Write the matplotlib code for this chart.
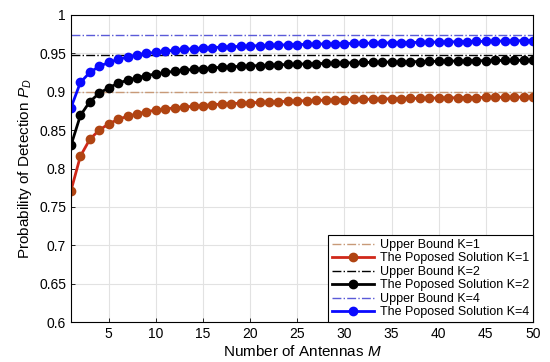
import numpy as np
import matplotlib
matplotlib.use('Agg')
import matplotlib.pyplot as plt
from matplotlib.ticker import FuncFormatter

plt.rcParams['font.family'] = ['Liberation Sans', 'DejaVu Sans']
plt.rcParams['mathtext.fontset'] = 'custom'
plt.rcParams['mathtext.rm'] = 'Liberation Sans'
plt.rcParams['mathtext.it'] = 'Liberation Sans:italic'

# data
M = list(range(1, 51))

pd_k1 = [0.771, 0.816, 0.838, 0.850, 0.858, 0.864, 0.868, 0.871, 0.874, 0.876,
         0.8775, 0.879, 0.880, 0.881, 0.882, 0.883, 0.8838, 0.8845, 0.885, 0.8857,
         0.886, 0.8866, 0.887, 0.8875, 0.888, 0.8883, 0.8887, 0.889, 0.8893, 0.8896,
         0.8899, 0.890, 0.8903, 0.8906, 0.8908, 0.891, 0.8912, 0.8914, 0.8916, 0.8918,
         0.892, 0.8921, 0.8923, 0.8924, 0.8926, 0.8927, 0.8928, 0.8929, 0.893, 0.8931]

pd_k2 = [0.830, 0.869, 0.887, 0.898, 0.905, 0.911, 0.915, 0.918, 0.921, 0.923,
         0.925, 0.9265, 0.928, 0.929, 0.930, 0.931, 0.9318, 0.9325, 0.933, 0.9336,
         0.934, 0.9345, 0.935, 0.9354, 0.9358, 0.9362, 0.9365, 0.9368, 0.9371, 0.9374,
         0.9377, 0.938, 0.9382, 0.9384, 0.9386, 0.9388, 0.939, 0.9392, 0.9394, 0.9396,
         0.9398, 0.940, 0.9401, 0.9403, 0.9404, 0.9406, 0.9407, 0.9408, 0.9409, 0.941]

pd_k4 = [0.879, 0.912, 0.925, 0.933, 0.938, 0.942, 0.945, 0.948, 0.950, 0.951,
         0.9525, 0.954, 0.955, 0.956, 0.9567, 0.9574, 0.958, 0.9586, 0.959, 0.9595,
         0.960, 0.9603, 0.9607, 0.961, 0.9613, 0.9616, 0.9619, 0.9622, 0.9624, 0.9626,
         0.9628, 0.963, 0.9632, 0.9634, 0.9636, 0.9638, 0.964, 0.9642, 0.9644, 0.9646,
         0.9648, 0.965, 0.9652, 0.9654, 0.9656, 0.9658, 0.966, 0.9662, 0.9664, 0.9666]

ub_k1 = 0.899
ub_k2 = 0.948
ub_k4 = 0.974

fig = plt.figure(figsize=(5.5, 3.62), dpi=100)
ax = fig.add_axes([0.129, 0.110, 0.840, 0.849])

ax.plot(M, [ub_k1] * len(M), '-.', color='#c89a78', lw=1, label='Upper Bound K=1')
ax.plot(M, pd_k1, '-o', color='#d0281a', mfc='#b04412', mec='#b04412', lw=2,
        ms=6, label='The Poposed Solution K=1')
ax.plot(M, [ub_k2] * len(M), '-.', color='black', lw=1, label='Upper Bound K=2')
ax.plot(M, pd_k2, '-o', color='black', lw=2, ms=6, label='The Poposed Solution K=2')
ax.plot(M, [ub_k4] * len(M), '-.', color='#5a5ad8', lw=1, label='Upper Bound K=4')
ax.plot(M, pd_k4, '-o', color='#0a0aff', lw=2, ms=6, label='The Poposed Solution K=4')

ax.set_xlim(1, 50)
ax.set_ylim(0.6, 1)
ax.set_xticks(range(5, 51, 5))
ax.set_yticks(np.arange(0.6, 1.001, 0.05))
ax.yaxis.set_major_formatter(FuncFormatter(lambda v, p: '%g' % round(v, 2)))
ax.tick_params(direction='in', labelsize=10, length=3, width=0.6)
ax.grid(True, color='#e2e2e2', lw=0.8)
for s in ax.spines.values():
    s.set_linewidth(0.8)

ax.set_xlabel('Number of Antennas $M$', fontsize=11, labelpad=2)
ax.set_ylabel('Probability of Detection $P_D$', fontsize=11, labelpad=4)

leg = ax.legend(loc='lower right', fontsize=9, frameon=True, fancybox=False,
                edgecolor='black', framealpha=1, borderaxespad=0,
                labelspacing=0.12, handlelength=3.4, borderpad=0.3, handletextpad=0.45)
leg.get_frame().set_linewidth(0.8)

plt.savefig('out.png', dpi=100)
